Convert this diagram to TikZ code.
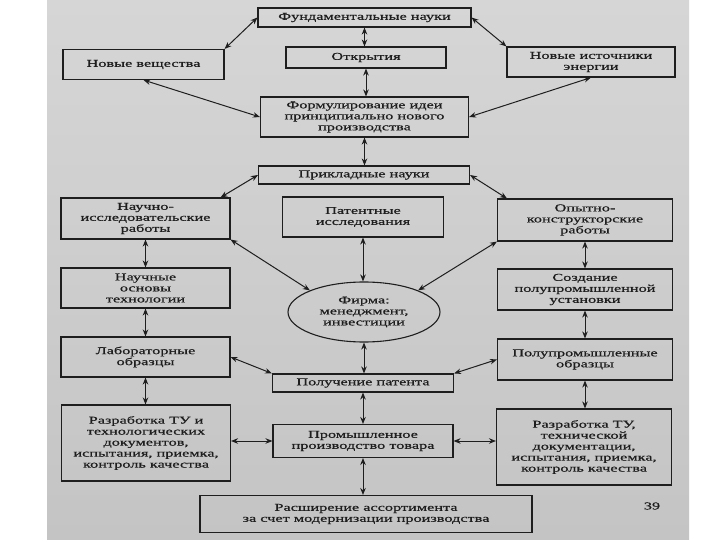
\documentclass[tikz,border=0pt]{standalone}
\usepackage{fontspec}
\setmainfont{Liberation Serif}[FakeStretch=1.55, FakeBold=0.7]
\usetikzlibrary{arrows.meta,shapes.geometric}
\definecolor{scantop}{RGB}{214,214,214}
\definecolor{scanbot}{RGB}{196,196,196}
\definecolor{ink}{RGB}{30,30,30}
\tikzset{
	box/.style={draw=ink, line width=1.1pt, align=center, inner sep=1pt, text=ink},
	link/.style={{Stealth[length=7pt,width=5.5pt]}-{Stealth[length=7pt,width=5.5pt]}, line width=1pt, ink}
}
\begin{document}
\begin{tikzpicture}[x=1pt, y=-1pt, font=\fontsize{10.5}{11}\selectfont]
	\useasboundingbox (0,0) rectangle (720,540);
	\fill[white] (0,0) rectangle (720,540);
	\shade[top color=scantop, bottom color=scanbot] (47,0) rectangle (689,540);
	\node[box, minimum width=213pt, minimum height=19pt] (fund) at (364.5,17.5) {Фундаментальные науки};
	\node[box, minimum width=160pt, minimum height=21pt] (otkr) at (366,57.5) {Открытия};
	\node[box, minimum width=161pt, minimum height=30pt] (vesch) at (143.5,64.5) {Новые вещества};
	\node[box, minimum width=168pt, minimum height=30pt] (energ) at (591,62) {Новые источники\\энергии};
	\node[box, minimum width=208pt, minimum height=40pt] (formul) at (364.5,117) {Формулирование идеи\\принципиально нового\\производства};
	\node[box, minimum width=211pt, minimum height=18pt] (prikl) at (364,175) {Прикладные науки};
	\node[box, minimum width=169pt, minimum height=41pt] (nir) at (145.5,218.5) {Научно-\\исследовательские\\работы};
	\node[box, minimum width=161pt, minimum height=40pt] (patent) at (363,217) {Патентные\\исследования};
	\node[box, minimum width=175pt, minimum height=42pt] (okr) at (585,220) {Опытно-\\конструкторские\\работы};
	\node[box, minimum width=169pt, minimum height=40pt] (osnovy) at (145.5,288) {Научные\\основы\\технологии};
	\node[box, ellipse, minimum width=152pt, minimum height=60pt, inner sep=0pt] (firma) at (364,312) {Фирма:\\менеджмент,\\инвестиции};
	\node[box, minimum width=175pt, minimum height=41pt] (sozd) at (585,289.5) {Создание\\полупромышленной\\установки};
	\node[box, minimum width=169pt, minimum height=40pt] (lab) at (145.5,357) {Лабораторные\\образцы};
	\node[box, minimum width=175pt, minimum height=41pt] (polup) at (585,359.5) {Полупромышленные\\образцы};
	\node[box, minimum width=181pt, minimum height=18pt] (poluch) at (363,383) {Получение патента};
	\node[box, minimum width=180pt, minimum height=33pt] (prom) at (363,441) {Промышленное\\производство товара};
	\node[box, minimum width=169pt, minimum height=76pt] (razrA) at (146,443) {Разработка ТУ и\\технологических\\документов,\\испытания, приемка,\\контроль качества};
	\node[box, minimum width=175pt, minimum height=76pt] (razrB) at (584,447) {Разработка ТУ,\\технической\\документации,\\испытания, приемка,\\контроль качества};
	\node[box, minimum width=332pt, minimum height=37pt] (rassh) at (366,514) {Расширение ассортимента\\за счет модернизации производства};
	\node[text=ink] (pagenum) at (652,506) {39};
	\foreach \a/\b in {fund/otkr, otkr/formul, formul/prikl, patent/firma, firma/poluch, poluch/prom, prom/rassh,
		nir/osnovy, osnovy/lab, lab/razrA, okr/sozd, sozd/polup, polup/razrB}
		\draw[link] (\a.south) -- (\a.south |- \b.north);
	\draw[link] (fund.west) -- (vesch.north east);
	\draw[link] (fund.east) -- (energ.north west);
	\draw[link] (vesch.south) -- (formul.west);
	\draw[link] (energ.south) -- (formul.east);
	\draw[link] (prikl.west) -- ([xshift=-10pt]nir.north east);
	\draw[link] (prikl.east) -- ([xshift=10pt]okr.north west);
	\draw[link] (nir.south east) -- (firma.north west);
	\draw[link] (okr.south west) -- (firma.north east);
	\draw[link] (lab.east) -- (poluch.north west);
	\draw[link] (polup.west) -- (poluch.north east);
	\draw[link] (prom.west) -- (prom.west -| razrA.east);
	\draw[link] (prom.east) -- (prom.east -| razrB.west);
\end{tikzpicture}
\end{document}
